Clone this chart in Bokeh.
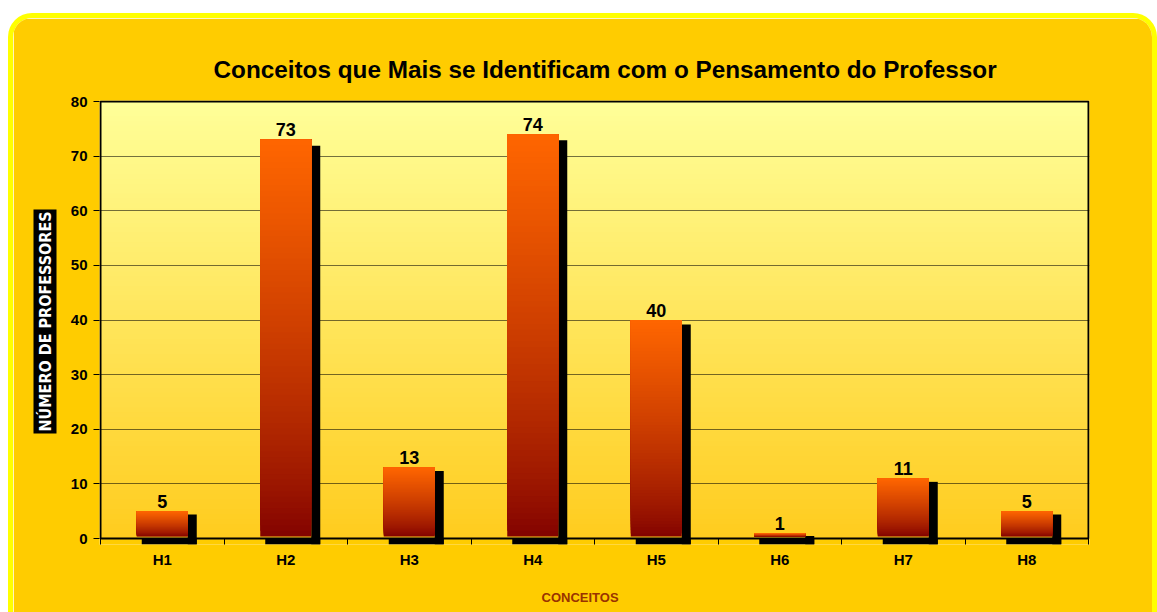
import numpy as np
from bokeh.plotting import figure
from bokeh.models import Range1d, FixedTicker, Title
from bokeh.core.properties import value
from bokeh.embed import file_html
from bokeh.resources import INLINE

# ---- data ----
categories = ["H1", "H2", "H3", "H4", "H5", "H6", "H7", "H8"]
counts = [5, 73, 13, 74, 40, 1, 11, 5]
y_ticks = [0, 10, 20, 30, 40, 50, 60, 70, 80]
title_text = "Conceitos que Mais se Identificam com o Pensamento do Professor"
x_title = "CONCEITOS"
y_title = "NÚMERO DE PROFESSORES"

# ---- style ----
FONT = "Liberation Sans"
NARROW = "'Liberation Sans Narrow', 'DejaVu Sans Condensed', sans-serif"
XPU = 123.5          # px per category
YPU = 437 / 80       # px per unit


def hex2rgb(h):
    h = h.lstrip("#")
    return np.array([int(h[i:i + 2], 16) for i in (0, 2, 4)], dtype=float)


def mix(c0, c1, t):
    a, b = hex2rgb(c0), hex2rgb(c1)
    out = []
    for tt in np.atleast_1d(t):
        c = a + (b - a) * tt
        out.append("#%02x%02x%02x" % tuple(int(round(v)) for v in c))
    return out


x0, x1 = -0.5 - 1 / XPU, 7.5 + 1 / XPU
y0, y1 = -6 / YPU, 80 + 1 / YPU
fw = int(round((x1 - x0) * XPU))
fh = int(round((y1 - y0) * YPU))

p = figure(x_range=Range1d(x0, x1), y_range=Range1d(y0, y1),
           frame_width=fw, frame_height=fh,
           min_border_left=86, min_border_right=63,
           min_border_top=82, min_border_bottom=68,
           output_backend="svg", toolbar_location=None,
           background_fill_color="#FFCC00", border_fill_color="#FFCC00",
           outline_line_color=None)
p.styles = {"border": "5px solid #FFFF00", "border-bottom": "none",
            "border-radius": "24px 24px 0 0", "overflow": "hidden",
            "position": "relative", "top": "13px", "left": "8px"}

# plot-area gradient background
nb = 90
kb = np.arange(nb)
p.quad(left=-0.5, right=7.5, bottom=80 * kb / nb, top=80,
       fill_color=mix("#FFCC1E", "#FFFF99", (kb + 0.5) / nb),
       line_color=None, level="image")

p.xgrid.visible = False
p.ygrid.ticker = FixedTicker(ticks=y_ticks[1:-1])
p.ygrid.grid_line_color = "black"
p.ygrid.grid_line_alpha = 0.55
p.ygrid.grid_line_width = 1

xs = np.arange(len(categories), dtype=float)
cnt = np.array(counts, dtype=float)
hw = 25.5 / XPU
sh = 9 / XPU
left = xs - hw
right = xs + hw

# shadows
p.quad(left=right, right=right + sh, bottom=y0,
       top=np.maximum(cnt - (3 + 0.04 * cnt) / YPU, 0),
       fill_color="black", line_color=None)
p.quad(left=left + 5 / XPU, right=right + sh, bottom=y0, top=0,
       fill_color="black", line_color=None)

# gradient bars (stacked slices painted bottom-up)
N = 70
b0 = 2 / YPU
L, R, B, T, C = [], [], [], [], []
for j in range(N):
    t = (j + 0.5) / N
    col = mix("#800000", "#FF6600", t ** 0.75)[0]
    for i in range(len(xs)):
        L.append(left[i]); R.append(right[i])
        B.append(b0 + (cnt[i] - b0) * j / N); T.append(cnt[i])
        C.append(col)
p.quad(left=L, right=R, bottom=B, top=T, fill_color=C, line_color=None)

# plot area outline
p.quad(left=-0.5, right=7.5, bottom=0, top=80, fill_color=None,
       line_color="black", line_width=2)

# value labels
p.text(x=xs, y=cnt, text=[str(c) for c in counts], y_offset=-10,
       text_align="center", text_baseline="alphabetic",
       text_font=value(FONT), text_font_style="bold",
       text_font_size="18px", text_color="black")

# axes
p.xaxis.ticker = FixedTicker(ticks=list(xs), minor_ticks=list(np.arange(-0.5, 8, 1.0)))
p.xaxis.major_label_overrides = {int(i): c for i, c in enumerate(categories)}
p.xaxis.major_tick_line_color = None
p.xaxis.major_tick_out = 0
p.xaxis.major_tick_in = 0
p.xaxis.minor_tick_line_color = "black"
p.xaxis.minor_tick_in = 6
p.xaxis.minor_tick_out = 0
p.xaxis.axis_line_color = None
p.xaxis.major_label_standoff = 6
p.xaxis.major_label_text_font = FONT
p.xaxis.major_label_text_font_style = "bold"
p.xaxis.major_label_text_font_size = "15px"
p.xaxis.major_label_text_color = "black"

p.yaxis.ticker = FixedTicker(ticks=y_ticks)
p.yaxis.axis_line_color = None
p.yaxis.major_tick_out = 6
p.yaxis.major_tick_in = 0
p.yaxis.major_tick_line_color = "black"
p.yaxis.minor_tick_line_color = None
p.yaxis.major_label_standoff = 6
p.yaxis.major_label_text_font = FONT
p.yaxis.major_label_text_font_style = "bold"
p.yaxis.major_label_text_font_size = "15px"
p.yaxis.major_label_text_color = "black"

# titles
p.title.text = title_text
p.title.align = "left"
p.title.offset = 114
p.title.standoff = 36
p.title.text_font = FONT
p.title.text_font_style = "bold"
p.title.text_font_size = "24.3px"
p.title.text_color = "black"

p.add_layout(Title(text=x_title, align="left", offset=442, standoff=34,
                   text_font=FONT, text_font_style="bold",
                   text_font_size="13px", text_color="#993300"), "below")
p.add_layout(Title(text=y_title, align="left", offset=111, standoff=22,
                   text_font=NARROW, text_font_style="bold",
                   text_font_size="16px", text_color="white",
                   background_fill_color="black", padding=2), "left")

open("out.html", "w").write(file_html(p, INLINE))
